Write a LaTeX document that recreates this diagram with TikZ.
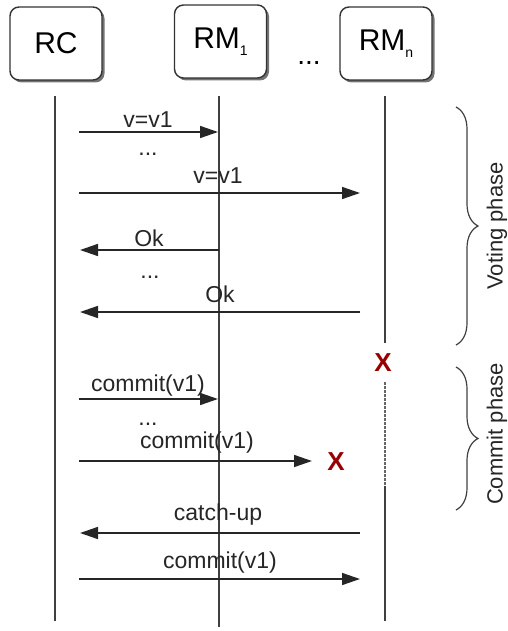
\documentclass[tikz,border=0pt]{standalone}
\usepackage{fontspec}
\setmainfont{Liberation Sans}
\usetikzlibrary{arrows.meta,shadows,decorations.pathreplacing}
\begin{document}
\begin{tikzpicture}[x=1pt,y=-1pt,
  actor/.style={draw=black!80, line width=1.4pt, rounded corners=9pt, fill=white,
    minimum width=92pt, minimum height=73pt, inner sep=0pt,
    font=\fontsize{30}{32}\selectfont,
    drop shadow={shadow xshift=2.5pt, shadow yshift=-2.5pt, fill=black!55, opacity=1}},
  life/.style={draw=black!75, line width=1.5pt},
  lost/.style={draw=black!60, line width=1.8pt, dash pattern=on 2.5pt off 1.5pt},
  msg/.style={draw=black!85, line width=1.5pt, -{Triangle[length=18pt,width=12pt]}},
  lbl/.style={font=\fontsize{23}{25}\selectfont, text=black!85, inner sep=0pt},
  gap/.style={font=\fontsize{23}{25}\selectfont, text=black!85, inner sep=0pt, anchor=base},
  crash/.style={font=\bfseries\fontsize{26}{28}\selectfont, text=red!60!black, inner sep=0pt},
  phase/.style={decorate, decoration={brace, amplitude=22pt}, draw=black!75, line width=1.2pt},
  phaselbl/.style={rotate=90, font=\fontsize{22}{24}\selectfont, text=black!85, inner sep=0pt},
]
\useasboundingbox (0,0) rectangle (508,631);

% participants
\node[actor] (rc)  at (56,43.5)  {RC};
\node[actor] (rm1) at (220.5,41.5) {RM\raisebox{-7pt}{\fontsize{14}{14}\selectfont 1}};
\node[actor] (rmn) at (386,43.5) {RM\raisebox{-7pt}{\fontsize{14}{14}\selectfont n}};
\node[font=\fontsize{28}{30}\selectfont, anchor=base, inner sep=0pt] (more) at (309,65) {...};

% lifelines
\coordinate (rcT) at (55,96);   \coordinate (rcB) at (55,621);
\coordinate (m1T) at (219,96);  \coordinate (m1B) at (219,627);
\coordinate (mnT) at (385,96);  \coordinate (mnX) at (385,343);
\coordinate (mnD) at (385,382); \coordinate (mnR) at (385,486);
\coordinate (mnB) at (385,621);
\draw[life] (rcT) -- (rcB);
\draw[life] (m1T) -- (m1B);
\draw[life] (mnT) -- (mnX);
\draw[lost] (mnD) -- (mnR);
\draw[life] (mnR) -- (mnB);
\node[crash] (failn) at (383,363) {X};

% voting phase
\coordinate (v1a) at (79,132);  \coordinate (v1b) at (218,132);
\draw[msg] (v1a) -- (v1b);
\node[lbl] (v1l) at (148,120) {v=v1};
\node[gap] (vd1) at (148,156) {...};
\coordinate (v2a) at (79,193);  \coordinate (v2b) at (360,193);
\draw[msg] (v2a) -- (v2b);
\node[lbl] (v2l) at (218,176) {v=v1};
\coordinate (o1a) at (219,250); \coordinate (o1b) at (80,250);
\draw[msg] (o1a) -- (o1b);
\node[lbl] (o1l) at (149,238) {Ok};
\node[gap] (od1) at (150,278) {...};
\coordinate (o2a) at (360,312); \coordinate (o2b) at (80,312);
\draw[msg] (o2a) -- (o2b);
\node[lbl] (o2l) at (220,294) {Ok};

% commit phase
\coordinate (c1a) at (79,399);  \coordinate (c1b) at (218,399);
\draw[msg] (c1a) -- (c1b);
\node[lbl] (c1l) at (148,386) {commit(v1)};
\node[gap] (cd1) at (148,425) {...};
\coordinate (c2a) at (79,461);  \coordinate (c2b) at (312,461);
\draw[msg] (c2a) -- (c2b);
\node[lbl] (c2l) at (197,443) {commit(v1)};
\node[crash] (failm) at (336,462) {X};

% recovery
\coordinate (k1a) at (360,533); \coordinate (k1b) at (80,533);
\draw[msg] (k1a) -- (k1b);
\node[lbl] (k1l) at (218,515) {catch-up};
\coordinate (k2a) at (79,579);  \coordinate (k2b) at (360,579);
\draw[msg] (k2a) -- (k2b);
\node[lbl] (k2l) at (220,563) {commit(v1)};

% phase braces
\coordinate (bvT) at (456,107); \coordinate (bvB) at (456,345);
\draw[phase] (bvT) -- (bvB);
\node[phaselbl] (vp) at (497,226) {Voting phase};
\coordinate (bcT) at (456,367); \coordinate (bcB) at (456,510);
\draw[phase] (bcT) -- (bcB);
\node[phaselbl] (cp) at (497,434) {Commit phase};
\end{tikzpicture}
\end{document}
